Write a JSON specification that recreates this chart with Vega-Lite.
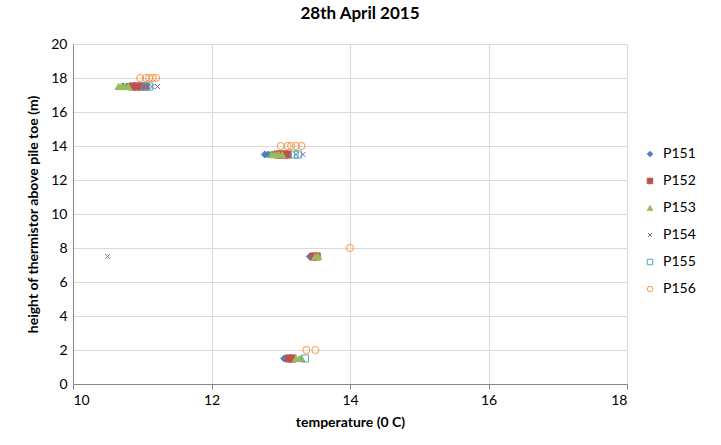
{
  "$schema": "https://vega.github.io/schema/vega-lite/v6.json",
  "width": 554,
  "height": 340,
  "autosize": {"type": "none"},
  "padding": {"left": 73, "top": 44, "right": 94, "bottom": 61},
  "background": "white",
  "title": {"text": "28th April 2015", "font": "Lato", "fontSize": 17, "fontWeight": "bold", "color": "#000000", "anchor": "middle", "offset": 14, "dx": 10},
  "data": {"values": [
    {"s": "P151", "t": 10.72, "h": 17.5}, {"s": "P151", "t": 10.78, "h": 17.5}, {"s": "P151", "t": 10.84, "h": 17.5}, {"s": "P151", "t": 10.9, "h": 17.5},
    {"s": "P152", "t": 10.86, "h": 17.5}, {"s": "P152", "t": 10.92, "h": 17.5}, {"s": "P152", "t": 10.98, "h": 17.5}, {"s": "P152", "t": 11.04, "h": 17.5},
    {"s": "P153", "t": 10.66, "h": 17.5}, {"s": "P153", "t": 10.7, "h": 17.5}, {"s": "P153", "t": 10.75, "h": 17.5}, {"s": "P153", "t": 10.8, "h": 17.5},
    {"s": "P154", "t": 11.0, "h": 17.5}, {"s": "P154", "t": 11.08, "h": 17.5}, {"s": "P154", "t": 11.14, "h": 17.5}, {"s": "P154", "t": 11.22, "h": 17.5},
    {"s": "P155", "t": 11.05, "h": 17.5}, {"s": "P155", "t": 11.1, "h": 17.5},
    {"s": "P156", "t": 10.97, "h": 18}, {"s": "P156", "t": 11.05, "h": 18}, {"s": "P156", "t": 11.1, "h": 18}, {"s": "P156", "t": 11.15, "h": 18}, {"s": "P156", "t": 11.2, "h": 18},
    {"s": "P151", "t": 12.77, "h": 13.5}, {"s": "P151", "t": 12.82, "h": 13.5}, {"s": "P151", "t": 12.87, "h": 13.5},
    {"s": "P152", "t": 12.95, "h": 13.5}, {"s": "P152", "t": 13.0, "h": 13.5}, {"s": "P152", "t": 13.05, "h": 13.5}, {"s": "P152", "t": 13.1, "h": 13.5},
    {"s": "P153", "t": 12.87, "h": 13.5}, {"s": "P153", "t": 12.92, "h": 13.5}, {"s": "P153", "t": 12.97, "h": 13.5}, {"s": "P153", "t": 13.02, "h": 13.5},
    {"s": "P154", "t": 13.22, "h": 13.5}, {"s": "P154", "t": 13.32, "h": 13.5},
    {"s": "P155", "t": 13.2, "h": 13.5}, {"s": "P155", "t": 13.25, "h": 13.5},
    {"s": "P156", "t": 13.0, "h": 14}, {"s": "P156", "t": 13.1, "h": 14}, {"s": "P156", "t": 13.15, "h": 14}, {"s": "P156", "t": 13.22, "h": 14}, {"s": "P156", "t": 13.3, "h": 14},
    {"s": "P151", "t": 13.42, "h": 7.5},
    {"s": "P152", "t": 13.47, "h": 7.5}, {"s": "P152", "t": 13.52, "h": 7.5},
    {"s": "P153", "t": 13.5, "h": 7.5}, {"s": "P153", "t": 13.54, "h": 7.5},
    {"s": "P154", "t": 10.5, "h": 7.5},
    {"s": "P156", "t": 14.0, "h": 8},
    {"s": "P151", "t": 13.05, "h": 1.5},
    {"s": "P152", "t": 13.12, "h": 1.5}, {"s": "P152", "t": 13.17, "h": 1.5},
    {"s": "P153", "t": 13.22, "h": 1.5}, {"s": "P153", "t": 13.27, "h": 1.5}, {"s": "P153", "t": 13.3, "h": 1.5},
    {"s": "P155", "t": 13.35, "h": 1.5},
    {"s": "P156", "t": 13.37, "h": 2}, {"s": "P156", "t": 13.5, "h": 2}
  ]},
  "mark": {"type": "point", "filled": true, "strokeWidth": 1, "opacity": 1},
  "encoding": {
    "x": {"field": "t", "type": "quantitative", "scale": {"domain": [10, 18], "nice": false, "zero": false},
      "axis": {"title": "temperature (0 C)", "values": [10, 12, 14, 16, 18], "format": "d"}},
    "y": {"field": "h", "type": "quantitative", "scale": {"domain": [0, 20], "nice": false},
      "axis": {"title": "height of thermistor above pile toe (m)", "values": [0, 2, 4, 6, 8, 10, 12, 14, 16, 18, 20], "format": "d"}},
    "shape": {"field": "s", "type": "nominal", "title": null,
      "scale": {"domain": ["P151", "P152", "P153", "P154", "P155", "P156"],
        "range": ["diamond", "square", "triangle-up", "M-0.7,-0.7L0.7,0.7M-0.7,0.7L0.7,-0.7", "square", "circle"]}},
    "fill": {"field": "s", "type": "nominal", "title": null,
      "scale": {"domain": ["P151", "P152", "P153", "P154", "P155", "P156"],
        "range": ["#4F81BD", "#C0504D", "#9BBB59", "transparent", "transparent", "transparent"]}},
    "stroke": {"field": "s", "type": "nominal", "title": null,
      "scale": {"domain": ["P151", "P152", "P153", "P154", "P155", "P156"],
        "range": ["#4F81BD", "#C0504D", "#9BBB59", "#8064A2", "#4BACC6", "#F79646"]}},
    "size": {"value": 50}
  },
  "config": {
    "view": {"stroke": null},
    "font": "Lato",
    "axis": {
      "labelFont": "Lato", "labelFontSize": 14, "labelColor": "#000000",
      "titleFont": "Lato", "titleFontSize": 14, "titleFontWeight": "bold", "titleColor": "#000000",
      "domainColor": "#868686", "tickColor": "#868686", "tickSize": 5,
      "gridColor": "#D9D9D9", "gridWidth": 1
    },
    "axisX": {"labelPadding": 4, "titlePadding": 8, "tickSize": 5},
    "axisY": {"labelPadding": 6, "titlePadding": 10, "ticks": false},
    "legend": {
      "orient": "none", "legendX": 570, "legendY": 103,
      "labelFont": "Lato", "labelFontSize": 14, "labelColor": "#000000",
      "symbolSize": 30, "symbolStrokeWidth": 1, "rowPadding": 13, "labelOffset": 6
    }
  }
}
